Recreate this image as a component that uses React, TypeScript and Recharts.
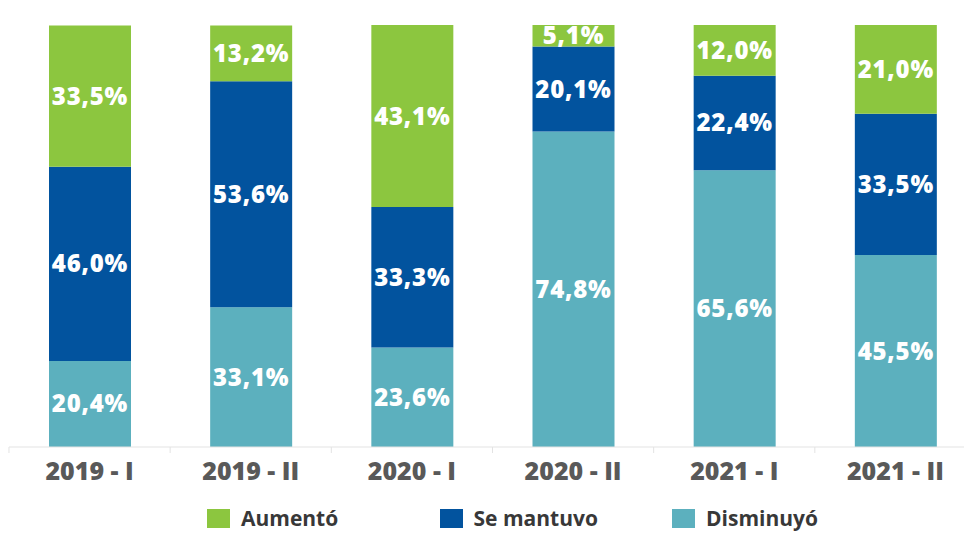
import { BarChart, Bar, XAxis, YAxis, Legend, LabelList } from "recharts";

const periods = ["2019 - I", "2019 - II", "2020 - I", "2020 - II", "2021 - I", "2021 - II"];
const disminuyo = [20.4, 33.1, 23.6, 74.8, 65.6, 45.5];
const seMantuvo = [46.0, 53.6, 33.3, 20.1, 22.4, 33.5];
const aumento = [33.5, 13.2, 43.1, 5.1, 12.0, 21.0];

const series = [
  { key: "aumento", name: "Aumentó", color: "#8cc63f" },
  { key: "seMantuvo", name: "Se mantuvo", color: "#02539e" },
  { key: "disminuyo", name: "Disminuyó", color: "#5cb0be" },
];

const data = periods.map((p, i) => ({
  period: p,
  disminuyo: disminuyo[i],
  seMantuvo: seMantuvo[i],
  aumento: aumento[i],
}));

const FONT = "'Open Sans', 'Noto Sans', sans-serif";
const HALF_BAND = 80.6;

const fmt = (v: any) => `${Number(v).toFixed(1).replace(".", ",")}%`;

function PeriodTick(props: any) {
  const { x, payload, index } = props;
  return (
    <g>
      <line x1={x - HALF_BAND} x2={x - HALF_BAND} y1={447} y2={453} stroke="#e3e3e3" />
      {index === periods.length - 1 && (
        <line x1={x + HALF_BAND} x2={x + HALF_BAND} y1={447} y2={453} stroke="#e3e3e3" />
      )}
      <text x={x} y={480} textAnchor="middle" fill="#595959" fontSize={25} fontWeight={800} fontFamily={FONT}>
        {payload.value}
      </text>
    </g>
  );
}

function LegendBox() {
  return (
    <div style={{ width: 964, height: 39, position: "relative", fontFamily: FONT }}>
      {series.map((s, i) => (
        <div key={s.key} style={{ position: "absolute", left: 207 + i * 232.5, top: 12, display: "flex", alignItems: "center" }}>
          <div style={{ width: 23, height: 19, background: s.color, marginRight: 11 }} />
          <span style={{ fontSize: 21, fontWeight: 700, color: "#383838", lineHeight: "19px" }}>{s.name}</span>
        </div>
      ))}
    </div>
  );
}

const labelProps = {
  position: "center" as const,
  formatter: fmt,
  fill: "#ffffff",
  fontSize: 24,
  fontWeight: 800,
  fontFamily: FONT,
  letterSpacing: 0.8,
};

export default function App() {
  return (
    <div style={{ position: "absolute", left: 0, top: 0, width: 964, height: 536, overflow: "hidden", background: "#fff" }}>
      <BarChart width={980} height={536} data={data} margin={{ top: 4, right: 4, bottom: 0, left: 9 }}>
        <XAxis
          dataKey="period"
          height={50}
          axisLine={{ stroke: "#e3e3e3" }}
          tickLine={false}
          tick={<PeriodTick />}
          interval={0}
        />
        <YAxis width={0} domain={[0, 105]} tick={false} tickLine={false} axisLine={{ stroke: "#eeeeee" }} />
        <Legend
          verticalAlign="bottom"
          height={39}
          wrapperStyle={{ left: 0, bottom: 0, width: 964 }}
          content={() => <LegendBox />}
        />
        <Bar dataKey="disminuyo" name="Disminuyó" stackId="a" fill="#5cb0be" barSize={82} isAnimationActive={false}>
          <LabelList dataKey="disminuyo" {...labelProps} />
        </Bar>
        <Bar dataKey="seMantuvo" name="Se mantuvo" stackId="a" fill="#02539e" barSize={82} isAnimationActive={false}>
          <LabelList dataKey="seMantuvo" {...labelProps} />
        </Bar>
        <Bar dataKey="aumento" name="Aumentó" stackId="a" fill="#8cc63f" barSize={82} isAnimationActive={false}>
          <LabelList dataKey="aumento" {...labelProps} />
        </Bar>
      </BarChart>
    </div>
  );
}
